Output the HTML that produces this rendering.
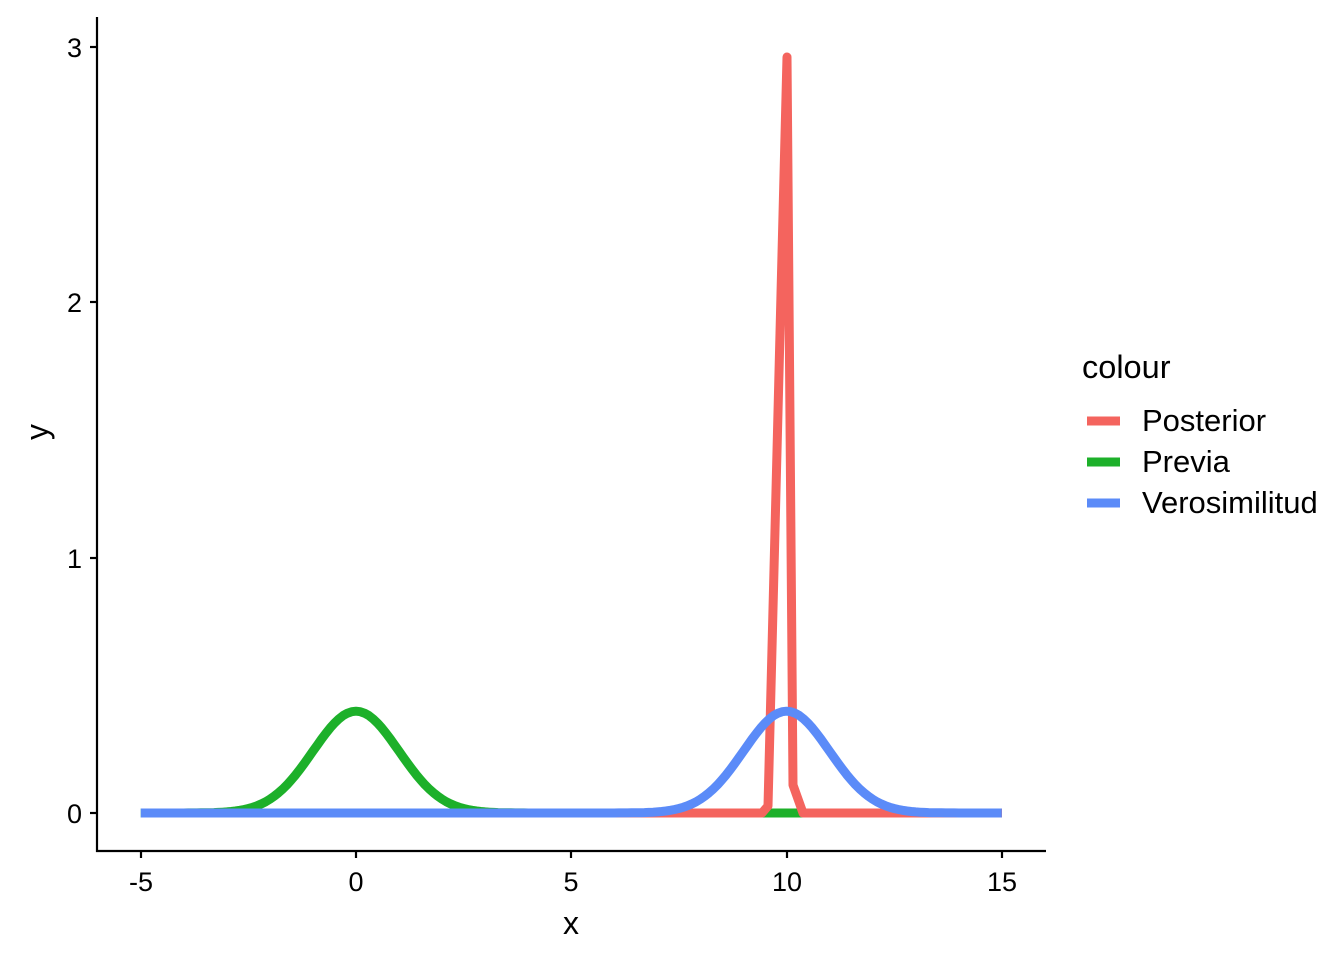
<!DOCTYPE html>
<html><head><meta charset="utf-8"><style>body{margin:0;background:#fff}svg{display:block}text{font-family:"Liberation Sans",Arial,sans-serif;fill:#000}</style></head>
<body>
<svg id="s" width="1344" height="960" xmlns="http://www.w3.org/2000/svg">
<rect width="1344" height="960" fill="#fff"/>
<g stroke="#000" stroke-width="2.2" fill="none">
<line x1="97" y1="17" x2="97" y2="852"/>
<line x1="96" y1="851" x2="1046" y2="851"/>
<line x1="141" y1="851" x2="141" y2="858"/><line x1="356" y1="851" x2="356" y2="858"/><line x1="571" y1="851" x2="571" y2="858"/><line x1="787" y1="851" x2="787" y2="858"/><line x1="1002" y1="851" x2="1002" y2="858"/>
<line x1="90" y1="813" x2="97" y2="813"/><line x1="90" y1="558" x2="97" y2="558"/><line x1="90" y1="302" x2="97" y2="302"/><line x1="90" y1="47" x2="97" y2="47"/>
</g>
<g font-size="27" text-anchor="middle">
<text x="141" y="891">-5</text><text x="356" y="891">0</text><text x="571" y="891">5</text><text x="787" y="891">10</text><text x="1002" y="891">15</text>
</g>
<g font-size="27" text-anchor="end">
<text x="82" y="823">0</text><text x="82" y="568">1</text><text x="82" y="312">2</text><text x="82" y="57">3</text>
</g>
<text x="571" y="934" font-size="32" text-anchor="middle">x</text>
<text transform="translate(48,432) rotate(-90)" font-size="32" text-anchor="middle">y</text>
<polyline id="prev" fill="none" stroke="#1DB02A" stroke-width="9" stroke-linejoin="round"/>
<polyline id="post" fill="none" stroke="#F4645E" stroke-width="9" stroke-linejoin="round"/>
<polyline id="vero" fill="none" stroke="#5B8BF8" stroke-width="9" stroke-linejoin="round"/>
<text x="1082" y="378" font-size="32.5">colour</text>
<line x1="1087" y1="421" x2="1120" y2="421" stroke="#F4645E" stroke-width="9"/>
<line x1="1087" y1="462" x2="1120" y2="462" stroke="#1DB02A" stroke-width="9"/>
<line x1="1087" y1="503" x2="1120" y2="503" stroke="#5B8BF8" stroke-width="9"/>
<g font-size="31"><text x="1142" y="431">Posterior</text><text x="1142" y="472">Previa</text><text x="1142" y="513">Verosimilitud</text></g>
</svg>
<script>
function X(x){return 356+x*43.05}function Y(y){return 813-y*255.3}
function n(x,m){return Math.exp(-0.5*(x-m)*(x-m))/Math.sqrt(2*Math.PI)}
var a=[],b=[];for(var i=0;i<=200;i++){var x=-5+i*0.1;a.push(X(x).toFixed(1)+","+Y(n(x,0)).toFixed(1));b.push(X(x).toFixed(1)+","+Y(n(x,10)).toFixed(1));}
document.getElementById("prev").setAttribute("points",a.join(" "));
document.getElementById("vero").setAttribute("points",b.join(" "));
document.getElementById("post").setAttribute("points","141,813 762,813 768,806 787,57 793,785 803,813 1002,813");
</script>
</body></html>
